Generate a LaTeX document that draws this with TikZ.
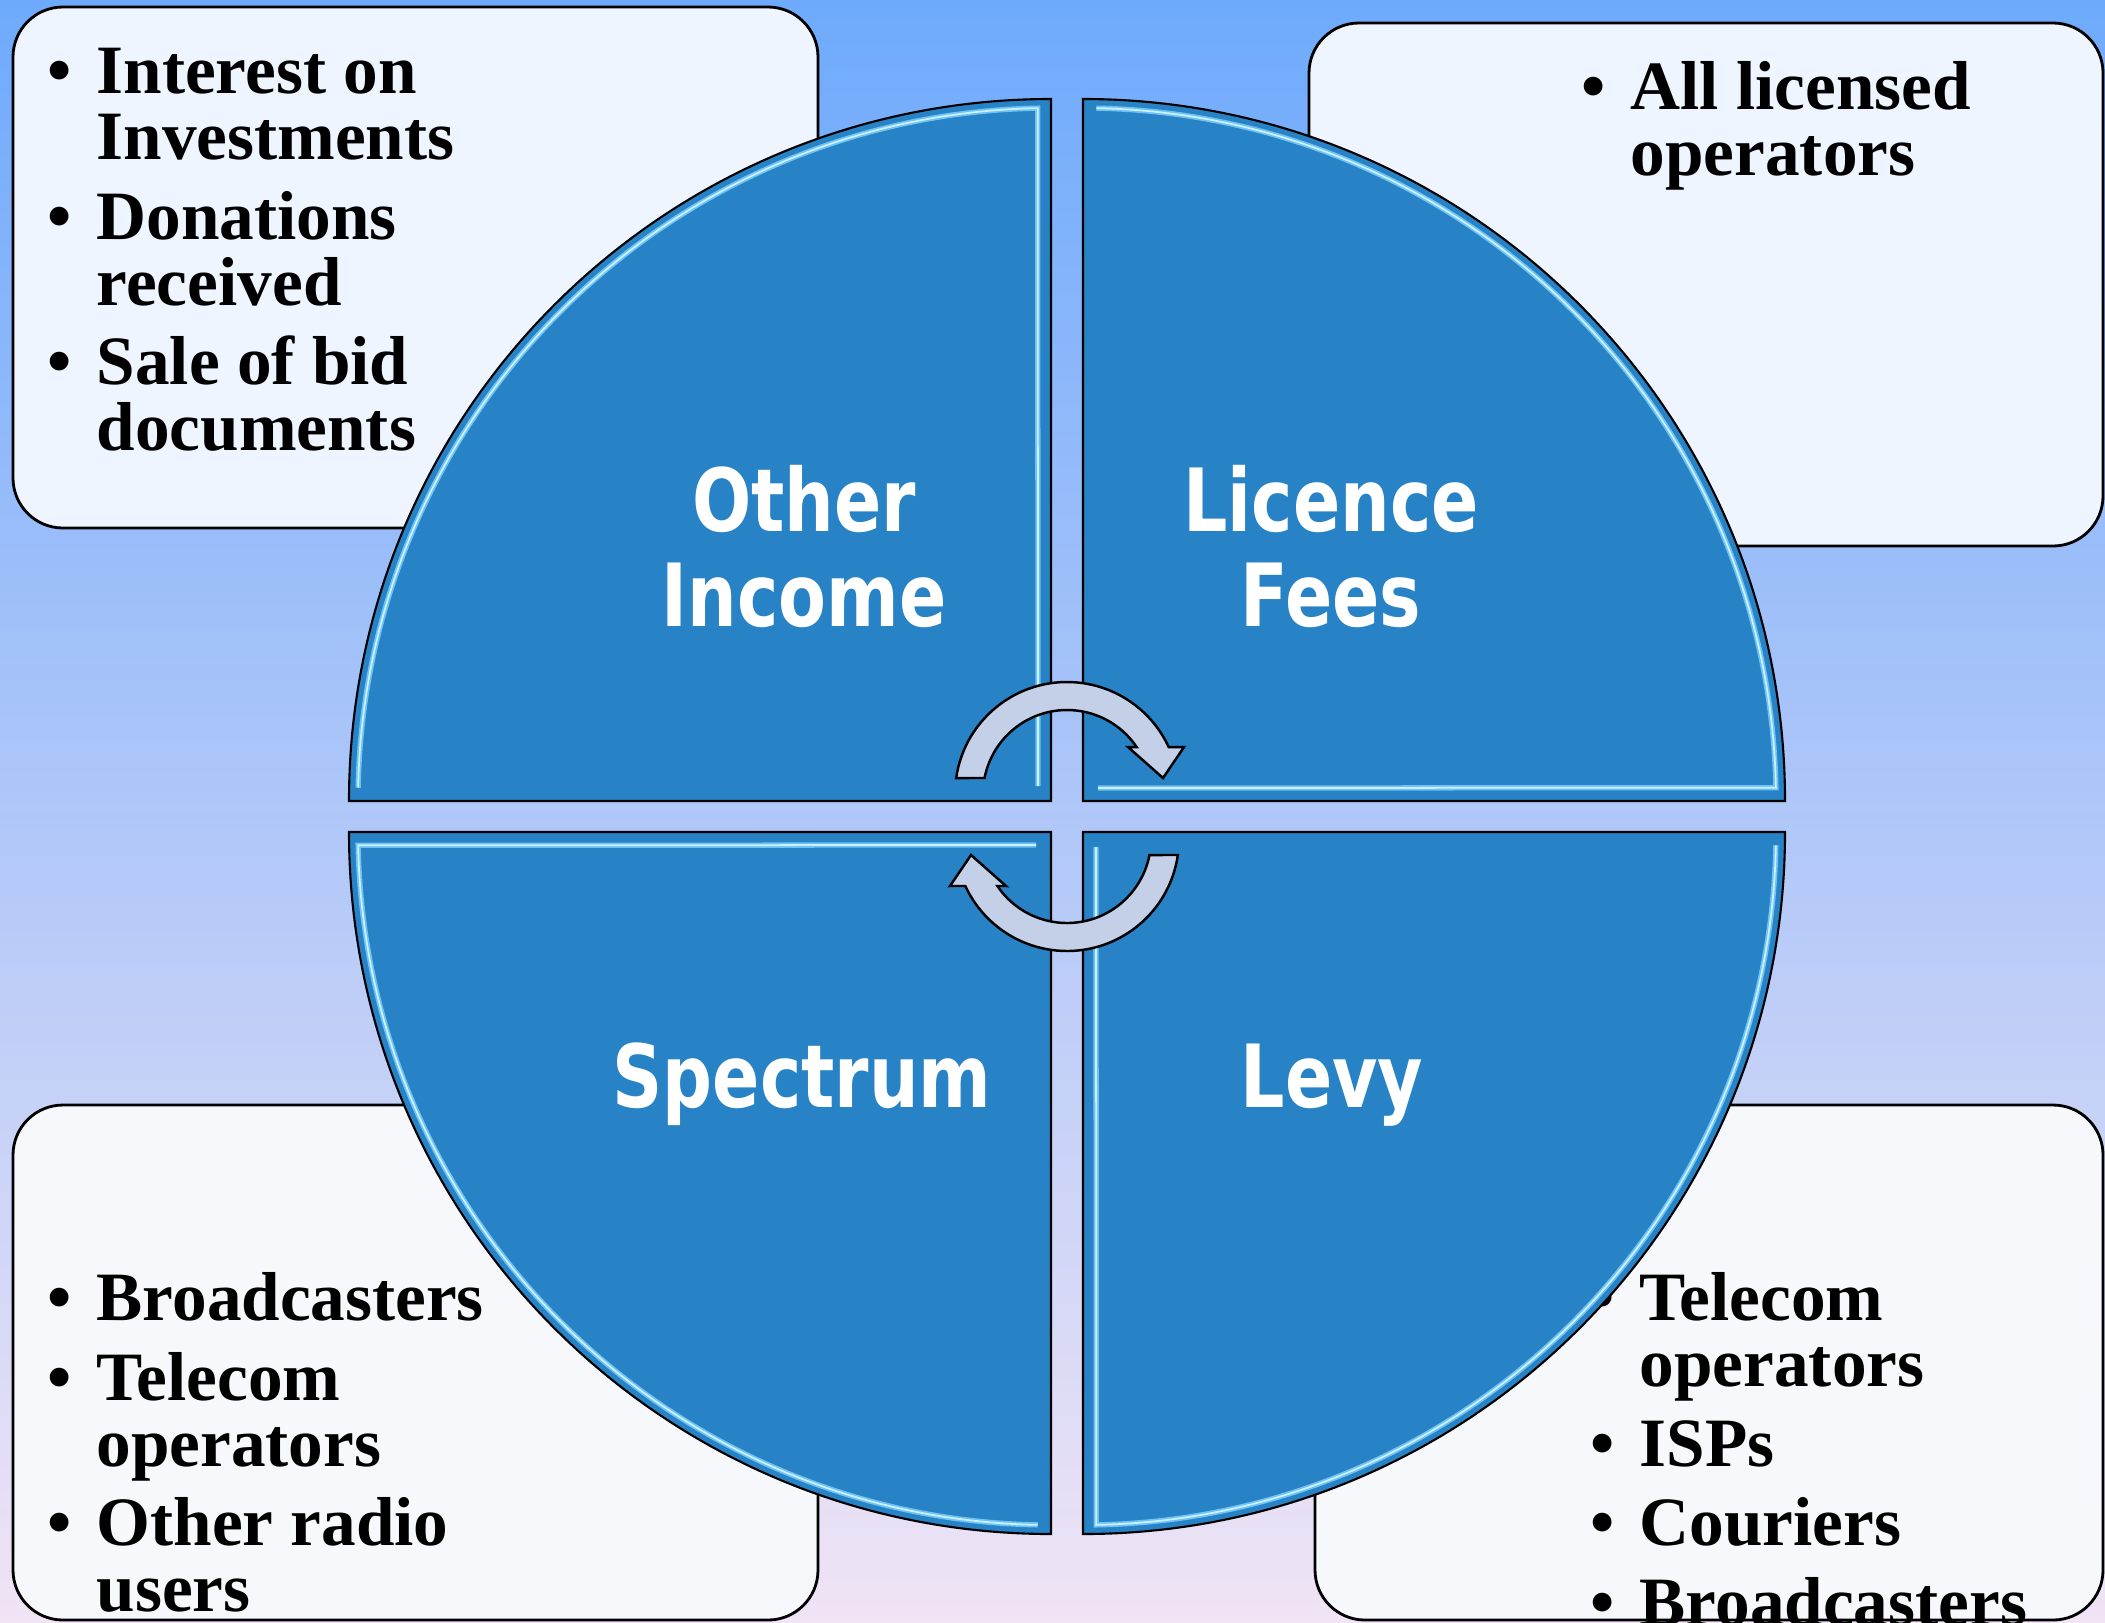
\documentclass[tikz,border=0pt]{standalone}
\usepackage{fontspec}
\setmainfont{Liberation Serif}
\newfontfamily\labelfont{DejaVu Sans}[FakeStretch=0.8]
\usepackage{xcolor}
\usepackage{tikz}

\definecolor{bgtop}{RGB}{110,170,252}
\definecolor{bgmid}{RGB}{165,203,243}
\definecolor{bgbot}{RGB}{240,228,245}
\definecolor{piece}{RGB}{40,130,198}
\definecolor{shine}{RGB}{110,195,245}
\definecolor{shinecore}{RGB}{205,240,255}
\definecolor{boxtop}{RGB}{238,245,254}
\definecolor{boxbot}{RGB}{247,248,251}
\definecolor{turn}{RGB}{196,208,232}

\newcommand{\bul}{\llap{\textbullet\hspace{7pt}}}
\newcommand{\qpiece}[2]{%
  \begin{scope}[shift={#1}, rotate=#2]
    \fill[piece] (0,0) -- (-7.02,0) arc[start angle=180, end angle=90, radius=7.02] -- cycle;
    \draw[pieceshine] (178.9:6.93) arc[start angle=178.9, end angle=91.1, radius=6.93] -- (-0.13,0.15);
    \draw[pieceline] (0,0) -- (-7.02,0) arc[start angle=180, end angle=90, radius=7.02] -- cycle;
  \end{scope}}
\newcommand{\turnpath}{(171.8:1.12) arc[start angle=171.8, end angle=24.8, radius=1.12]
  -- (1.17,0.47) -- (0.96,0.16) -- (0.61,0.47) -- (34:0.84) arc[start angle=34, end angle=169, radius=0.84] -- cycle}

\begin{document}
\begin{tikzpicture}[
    infobox/.style={draw=black, line width=0.8pt, rounded corners=0.5cm, inner sep=0pt, outer sep=0pt, anchor=north west},
    listtext/.style={inner sep=0pt, anchor=north west, align=left, font=\fontsize{19.7}{18.8}\selectfont\bfseries},
    quadlabel/.style={text=white, inner sep=0pt, align=center, font=\labelfont\bfseries\fontsize{24.8}{27.3}\selectfont},
    pieceline/.style={draw=black, line width=0.6pt},
    pieceshine/.style={draw=shine, line width=0.5pt, double=shinecore, double distance=0.5pt},
    turnarrow/.style={fill=turn, draw=black, line width=0.7pt}]
     \shade[top color=bgtop, middle color=bgmid, bottom color=bgbot] (0,0) rectangle (21.05,-16.22);
     \useasboundingbox (0,0) rectangle (21.05,-16.22);

     \node[infobox, fill=boxtop, minimum width=8.05cm, minimum height=5.21cm] (tlBox) at (0.13,-0.07) {};
     \node[infobox, fill=boxtop, minimum width=7.94cm, minimum height=5.23cm] (trBox) at (13.09,-0.23) {};
     \node[infobox, fill=boxbot, minimum width=8.05cm, minimum height=5.15cm] (blBox) at (0.13,-11.05) {};
     \node[infobox, fill=boxbot, minimum width=7.88cm, minimum height=5.15cm] (brBox) at (13.15,-11.05) {};

     \node[listtext] (tlList) at (0.96,-0.438) {\rule{0pt}{14pt}\bul Interest on\\Investments\\[3.8pt]\bul Donations\\received\\[3.8pt]\bul Sale of bid\\documents};
     \node[listtext] (trList) at (16.30,-0.598) {\rule{0pt}{14pt}\bul All licensed\\operators};
     \node[listtext] (blList) at (0.96,-12.708) {\rule{0pt}{14pt}\bul Broadcasters\\[3.8pt]\bul Telecom\\operators\\[3.8pt]\bul Other radio\\users};
     \node[listtext] (brList) at (16.39,-12.708) {\rule{0pt}{14pt}\bul Telecom\\operators\\[3.8pt]\bul ISPs\\[3.8pt]\bul Couriers\\[3.8pt]\bul Broadcasters};

     \qpiece{(10.51,-8.01)}{0}
     \qpiece{(10.83,-8.01)}{-90}
     \qpiece{(10.83,-8.32)}{180}
     \qpiece{(10.51,-8.32)}{90}

     \node[quadlabel] (other) at (8.04,-5.465) {Other\\Income};
     \node[quadlabel] (licence) at (13.31,-5.465) {Licence\\Fees};
     \node[quadlabel, anchor=base] (spectrum) at (8.02,-11.07) {Spectrum};
     \node[quadlabel, anchor=base] (levy) at (13.32,-11.07) {Levy};

     \begin{scope}[shift={(10.67,-7.94)}]
       \draw[turnarrow] \turnpath;
     \end{scope}
     \begin{scope}[shift={(10.67,-8.39)}, rotate=180]
       \draw[turnarrow] \turnpath;
     \end{scope}
\end{tikzpicture}
\end{document}
